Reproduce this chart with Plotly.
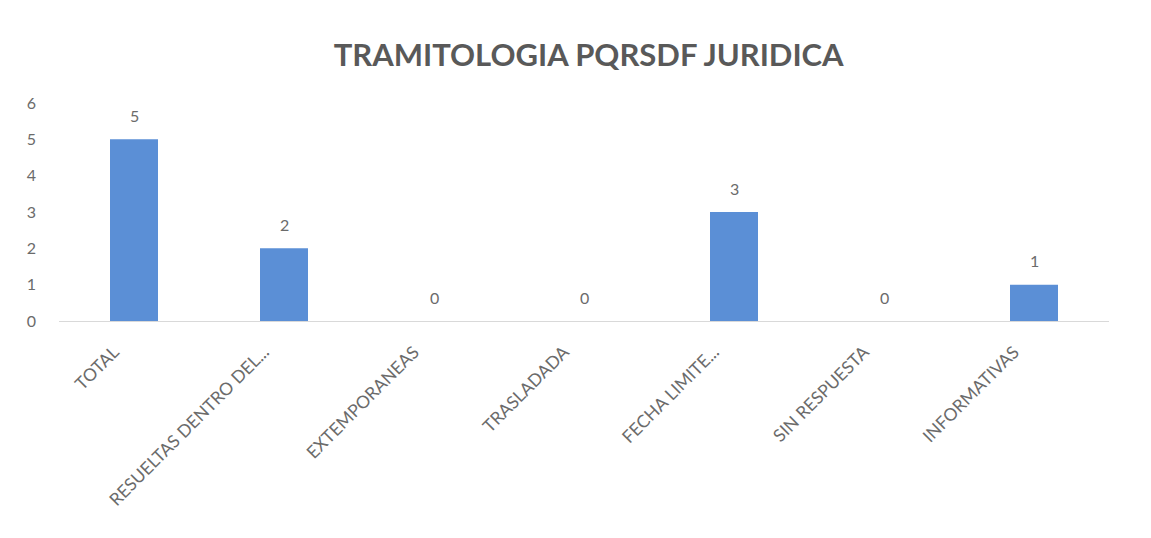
import plotly.graph_objects as go

categorias = ["TOTAL", "RESUELTAS DENTRO DEL...", "EXTEMPORANEAS", "TRASLADADA",
              "FECHA LIMITE...", "SIN RESPUESTA", "INFORMATIVAS"]
valores = [5, 2, 0, 0, 3, 0, 1]
ticks_y = [0, 1, 2, 3, 4, 5, 6]

gris = "#6b6b6b"
fig = go.Figure()
fig.add_bar(x=categorias, y=valores, marker_color="#5b8fd6", marker_line_width=0)

# etiquetas de datos encima de cada barra
for c, v in zip(categorias, valores):
    fig.add_annotation(x=c, y=v, text=str(v), showarrow=False, yshift=24,
                       font=dict(size=16, color=gris))

# la pagina tiene 8px de margen en el body
fig.update_layout(
    width=1143, height=530,
    margin=dict(l=51, r=42, t=95, b=217),
    paper_bgcolor="white", plot_bgcolor="white",
    bargap=0.68, showlegend=False,
    font=dict(family="Lato, 'Open Sans', sans-serif", color=gris),
    title=dict(text="<b>TRAMITOLOGIA PQRSDF JURIDICA</b>", x=0.508, xanchor="center",
               y=0.911, yanchor="middle", font=dict(size=31, color="#595959")),
)
fig.update_xaxes(tickangle=-45, tickfont=dict(size=17.5, color=gris), showline=True,
                 linecolor="#d9d9d9", linewidth=1, ticks="", showgrid=False,
                 ticklabelshift=-20, ticklabelstandoff=13)
fig.update_yaxes(range=[0, 6], tickvals=ticks_y, tickfont=dict(size=16, color=gris),
                 showgrid=False, zeroline=False, showline=False, ticklabelstandoff=22)

fig.write_html("out.html")
